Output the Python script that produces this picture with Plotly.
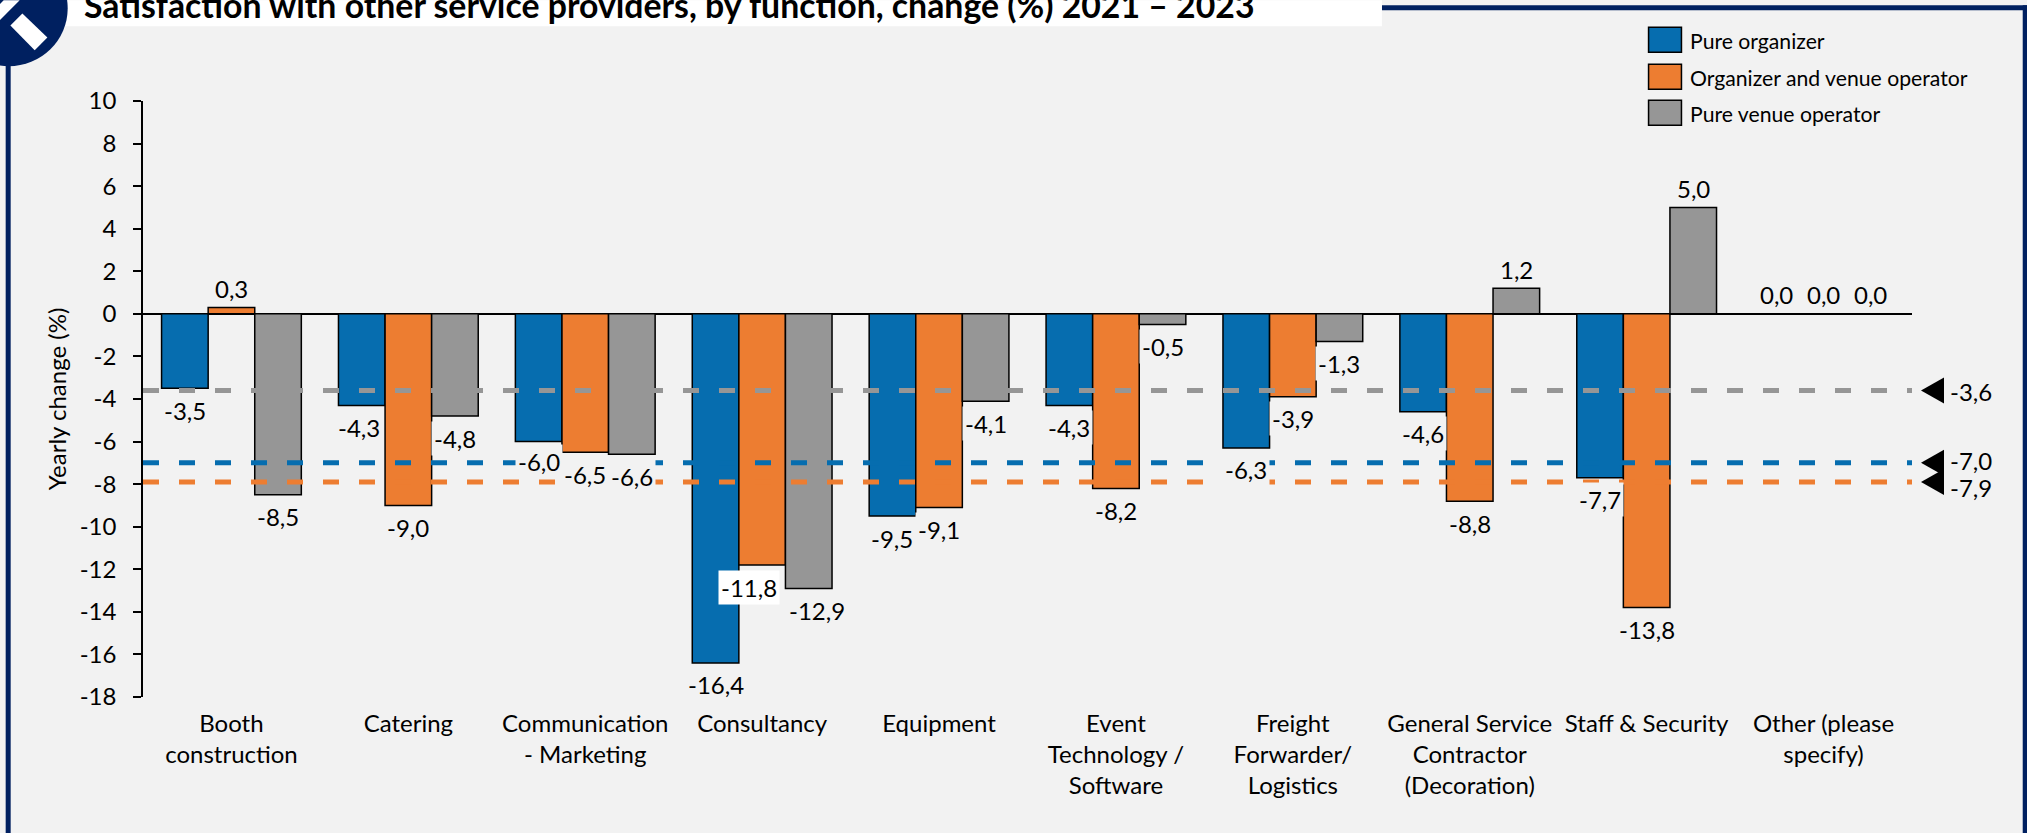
import plotly.graph_objects as go

categories = ["Booth<br>construction", "Catering", "Communication<br>- Marketing", "Consultancy", "Equipment",
              "Event<br>Technology /<br>Software", "Freight<br>Forwarder/<br>Logistics",
              "General Service<br>Contractor<br>(Decoration)", "Staff & Security", "Other (please<br>specify)"]
pure_organizer = [-3.5, -4.3, -6.0, -16.4, -9.5, -4.3, -6.3, -4.6, -7.7, 0.0]
organizer_venue = [0.3, -9.0, -6.5, -11.8, -9.1, -8.2, -3.9, -8.8, -13.8, 0.0]
pure_venue = [-8.5, -4.8, -6.6, -12.9, -4.1, -0.5, -1.3, 1.2, 5.0, 0.0]
series_names = ["Pure organizer", "Organizer and venue operator", "Pure venue operator"]
averages = [-7.0, -7.9, -3.6]
y_ticks = list(range(-18, 11, 2))
title_text = "Satisfaction with other service providers, by function, change (%) 2021 – 2023"

W, H = 2027, 833
L, R, T, B = 143.3, 1912, 100.8, 697
BLUE, ORANGE, GRAY, NAVY, BG = "#066DAF", "#ED7D31", "#969696", "#002060", "#F2F2F2"
FONT = "Lato"
FS = 24
colors = [BLUE, ORANGE, GRAY]
all_series = [pure_organizer, organizer_venue, pure_venue]

def px(x): return (x - L) / (R - L)
def py(y): return (B - y) / (B - T)

fig = go.Figure()
for name, vals, c in zip(series_names, all_series, colors):
    fig.add_trace(go.Bar(x=list(range(10)), y=vals, name=name, marker=dict(color=c, line=dict(color="black", width=1.5))))
for avg, c in zip(averages, colors):
    fig.add_trace(go.Scatter(x=[-0.5, 9.5], y=[avg, avg], mode="lines", showlegend=False,
                             line=dict(color=c, width=5, dash="16,20")))

annots = []
bar_w = 0.79 / 3
x_tweaks = {(1, 0): -3, (3, 1): -13, (3, 2): 8}
y_tweaks = {(2, 0): 2}
for s, vals in enumerate(all_series):
    for i, v in enumerate(vals):
        annots.append(dict(x=i + (s - 1) * bar_w, y=v, xref="x", yref="y",
                           text=f"{v:.1f}".replace(".", ","), showarrow=False,
                           xshift=x_tweaks.get((i, s), 0),
                           yshift=(-22 if v < 0 else 19) + y_tweaks.get((i, s), 0),
                           bgcolor="white" if (i, s) == (3, 1) else BG if v < 0 else None,
                           borderpad=2, font=dict(family=FONT, size=FS, color="black")))
# average labels
avg_label_px = {-7.0: 460, -7.9: 487, -3.6: 391}
for avg in averages:
    annots.append(dict(x=px(1971), y=py(avg_label_px[avg]), xref="paper", yref="paper",
                       xanchor="center", yanchor="middle",
                       text=f"{avg:.1f}".replace(".", ","), showarrow=False,
                       font=dict(family=FONT, size=FS, color="black")))
# title
annots.append(dict(x=px(82), y=py(5), xref="paper", yref="paper", text=f"<b>{title_text}</b>", showarrow=False,
                   xanchor="left", yanchor="middle", font=dict(family=FONT, size=33.8, color="black")))
# legend
leg_y = [39.5, 76.5, 112.5]
for name, c, y in zip(series_names, colors, leg_y):
    annots.append(dict(x=px(1688), y=py(y + 1), xref="paper", yref="paper", text=name, showarrow=False,
                       xanchor="left", yanchor="middle", font=dict(family=FONT, size=21.2, color="black")))

def rect(x0, y0, x1, y1, fill, line=None, w=0):
    return dict(type="rect", xref="paper", yref="paper", x0=px(x0), x1=px(x1), y0=py(y0), y1=py(y1),
                fillcolor=fill, line=dict(color=line or fill, width=w), layer="below")

def poly(pts, fill):
    p = "M " + " L ".join(f"{px(x)} {py(y)}" for x, y in pts) + " Z"
    return dict(type="path", xref="paper", yref="paper", path=p, fillcolor=fill, line=dict(width=0), layer="below")

shapes = [
    rect(1382, 5, 2027, 10, NAVY),
    rect(2022.7, 5, 2027, 833, NAVY),
    rect(6, 40, 11, 833, NAVY),
    rect(0, 0, 1382, 26, "white"),
    dict(type="circle", xref="paper", yref="paper", x0=px(-50), x1=px(68), y0=py(-50), y1=py(66),
         fillcolor=NAVY, line=dict(width=0), layer="below"),
    poly([(22.7, 13.3), (47.7, 37.3), (35, 50), (10.7, 25.3)], "white"),
    poly([(0, 4), (4, 0), (20, 0), (0, 20)], "white"),
]
for c, y in zip(colors, leg_y):
    shapes.append(rect(1648.6, y - 12.5, 1681.5, y + 12.5, c, "black", 1.5))
for avg in averages:
    shapes.append(dict(type="path", xref="paper", yref="y",
                       path=f"M {px(1921)} {avg} L {px(1944)} {avg + 0.61} L {px(1944)} {avg - 0.61} Z",
                       fillcolor="black", line=dict(width=0)))

fig.update_layout(
    width=W, height=H, autosize=False,
    margin=dict(l=L, r=W - R, t=T, b=H - B, pad=0),
    paper_bgcolor=BG, plot_bgcolor=BG,
    barmode="group", bargap=0.21, bargroupgap=0, showlegend=False,
    font=dict(family=FONT, size=FS, color="black"),
    annotations=annots, shapes=shapes,
    xaxis=dict(range=[-0.5, 9.5], tickmode="array", tickvals=list(range(10)), ticktext=categories,
               showgrid=False, showline=False, zeroline=False, ticks="", ticklabelstandoff=10,
               tickfont=dict(family=FONT, size=FS)),
    yaxis=dict(range=[-18, 10], tickmode="array", tickvals=y_ticks, ticktext=[str(t) for t in y_ticks],
               showgrid=False, showline=True, linecolor="black", linewidth=1.5, ticks="outside", ticklen=8,
               tickcolor="black", tickwidth=1.5, zeroline=True, zerolinecolor="black", zerolinewidth=1.5,
               ticklabelstandoff=12,
               title=dict(text="Yearly change (%)", font=dict(family=FONT, size=24), standoff=6),
               tickfont=dict(family=FONT, size=FS)),
)
fig.write_html("out.html", config=dict(displayModeBar=False),
               post_script="document.body.style.margin='0';document.documentElement.style.overflow='hidden';")
